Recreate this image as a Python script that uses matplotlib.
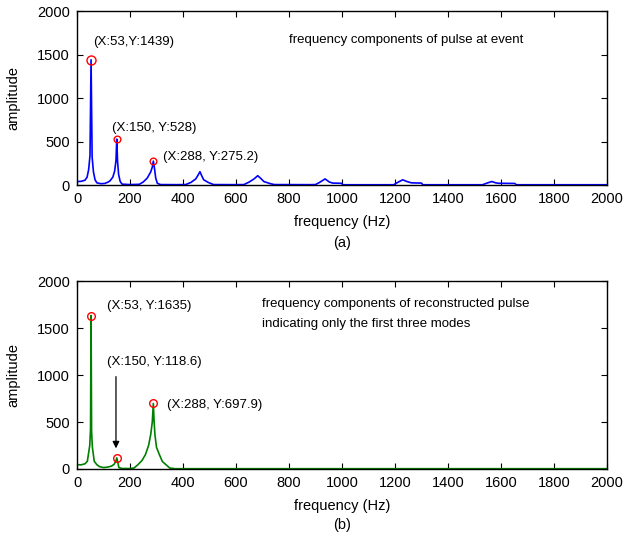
import matplotlib
matplotlib.use('Agg')
import matplotlib.pyplot as plt

plt.rcParams['font.family'] = ['Liberation Sans', 'DejaVu Sans']

# spectrum of the measured pulse (breakpoints of the FFT magnitude)
freq_a = [0, 15, 30, 38, 44, 49, 53, 57, 62, 68, 75, 90, 105, 118, 125, 135, 142, 147, 150,
          153, 157, 163, 170, 200, 235, 250, 265, 278, 284, 288, 292, 297, 303, 315, 380,
          410, 430, 448, 458, 464, 470, 478, 495, 515, 600, 630, 650, 668, 682, 692, 705,
          730, 745, 880, 900, 918, 936, 952, 965, 998, 1003, 1150, 1195, 1210, 1229, 1245,
          1262, 1300, 1305, 1500, 1530, 1550, 1565, 1580, 1590, 1652, 1658, 2000]
amp_a = [40, 42, 55, 90, 180, 340, 1439, 320, 150, 60, 25, 15, 18, 35, 50, 90, 160, 280, 528,
         270, 120, 40, 10, 5, 8, 35, 80, 150, 205, 275.2, 200, 80, 20, 5, 4,
         5, 30, 70, 120, 153, 110, 60, 30, 5, 4, 5, 35, 70, 107, 80, 40,
         15, 5, 4, 5, 35, 70, 35, 22, 20, 3, 3, 3, 30, 60, 40,
         25, 22, 3, 3, 3, 25, 40, 25, 20, 18, 3, 3]

# spectrum of the reconstructed pulse (first three modes)
freq_b = [0, 15, 30, 39, 48, 51, 53, 55, 58, 65, 75, 85, 100, 115, 130, 140, 146, 150, 154,
          158, 170, 200, 215, 230, 245, 258, 270, 278, 284, 288, 291, 294, 300, 311, 322,
          338, 350, 370, 2000]
amp_b = [46, 44, 55, 82, 250, 420, 1635, 400, 230, 82, 45, 25, 15, 20, 30, 50, 80, 118.6, 70,
         15, 5, 5, 10, 46, 90, 152, 250, 365, 500, 697.9, 500, 365, 230, 152, 80,
         40, 10, 3, 3]

# picked peaks shown with red circles
peaks_a_f = [53, 150, 288]
peaks_a_y = [1439, 528, 275.2]
peaks_b_f = [53, 150, 288]
peaks_b_y = [1635, 118.6, 697.9]

xticks = list(range(0, 2001, 200))
yticks = [0, 500, 1000, 1500, 2000]

fig = plt.figure(figsize=(6.36, 5.38), dpi=100)
ax1 = fig.add_axes([0.1211, 0.6561, 0.8333, 0.3234])
ax2 = fig.add_axes([0.1211, 0.1283, 0.8333, 0.3488])


def style(ax):
    ax.set_xlim(0, 2000)
    ax.set_ylim(0, 2000)
    ax.set_xticks(xticks)
    ax.set_yticks(yticks)
    ax.tick_params(direction='in', length=4, width=0.8, top=True, right=True,
                   labelsize=10.5, pad=5)
    for s in ax.spines.values():
        s.set_linewidth(1.0)
    ax.set_ylabel('amplitude', fontsize=10.5)
    ax.yaxis.set_label_coords(-0.1075, 0.5)


# (a) measured pulse
ax1.plot(freq_a, amp_a, color='blue', lw=1.2)
ax1.plot(peaks_a_f[:1], peaks_a_y[:1], 'o', mfc='none', mec='red', ms=6.5, mew=1.0)
ax1.plot(peaks_a_f[1:], peaks_a_y[1:], 'o', mfc='none', mec='red', ms=4.8, mew=1.0)
style(ax1)
ax1.text(60, 1647, '(X:53,Y:1439)', fontsize=9.5, va='center')
ax1.text(131, 659, '(X:150, Y:528)', fontsize=9.5, va='center')
ax1.text(326, 325, '(X:288, Y:275.2)', fontsize=9.5, va='center')
ax1.text(800, 1667, 'frequency components of pulse at event', fontsize=9.5, va='center')
ax1.set_xlabel('frequency (Hz)', fontsize=10.5, va='center')
ax1.xaxis.set_label_coords(0.5, -0.211)
ax1.text(0.5, -0.333, '(a)', transform=ax1.transAxes, ha='center', va='center',
         fontsize=10.5)

# (b) reconstructed pulse
ax2.plot(freq_b, amp_b, color='green', lw=1.2)
ax2.plot(peaks_b_f, peaks_b_y, 'o', mfc='none', mec='red', ms=5.5, mew=1.0)
style(ax2)
ax2.text(112, 1733, '(X:53, Y:1635)', fontsize=9.5, va='center')
ax2.text(112, 1140, '(X:150, Y:118.6)', fontsize=9.5, va='center')
ax2.text(338, 685, '(X:288, Y:697.9)', fontsize=9.5, va='center')
ax2.text(697, 1763, 'frequency components of reconstructed pulse', fontsize=9.5, va='center')
ax2.text(697, 1550, 'indicating only the first three modes', fontsize=9.5, va='center')
ax2.annotate('', xy=(peaks_b_f[1] - 3, 190), xytext=(peaks_b_f[1] - 3, 1014),
             arrowprops=dict(arrowstyle='-|>', color='black', lw=0.9, mutation_scale=10))
ax2.set_xlabel('frequency (Hz)', fontsize=10.5, va='center')
ax2.xaxis.set_label_coords(0.5, -0.196)
ax2.text(0.5, -0.297, '(b)', transform=ax2.transAxes, ha='center', va='center',
         fontsize=10.5)

fig.savefig('out.png', dpi=100)
